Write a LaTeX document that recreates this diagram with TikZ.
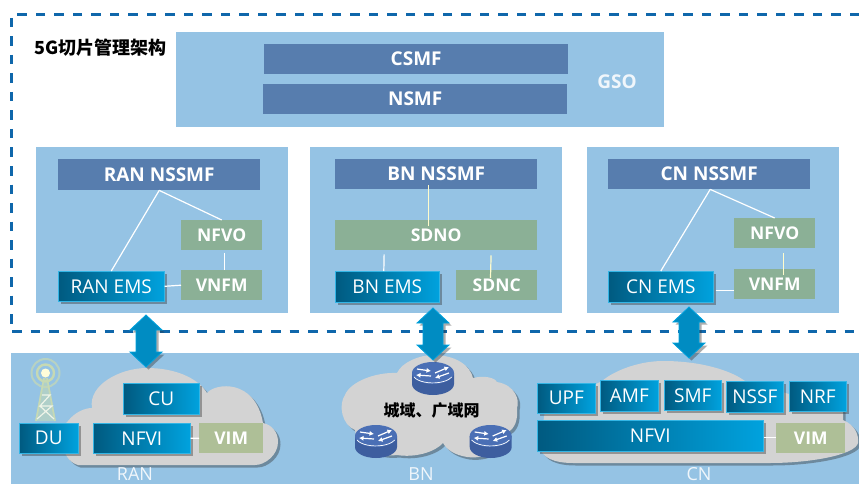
\documentclass[tikz,border=0pt]{standalone}
\usepackage{fontspec}
\setmainfont{Open Sans}
\newfontfamily\cjkfont{Noto Sans CJK SC}
\usetikzlibrary{shadows,arrows.meta}
\definecolor{panelblue}{HTML}{95C3E4}
\definecolor{mgmtblue}{HTML}{577DAE}
\definecolor{mgmtgreen}{HTML}{8BB096}
\definecolor{vimgreen}{HTML}{AEBF97}
\definecolor{cloudgray}{HTML}{D3D3D3}
\definecolor{gradleft}{HTML}{005A80}
\definecolor{gradright}{HTML}{00A2DE}
\definecolor{dashblue}{HTML}{0F67AB}
\definecolor{paletext}{HTML}{F0F6FB}
\definecolor{routertop}{HTML}{4A6FB5}
\definecolor{routerbody}{HTML}{3D5E9F}
\definecolor{towergreen}{HTML}{C6D9B4}
\tikzset{
  x=1pt,y=-1pt,
  softshadow/.style={drop shadow={shadow xshift=2.5pt,shadow yshift=-2.5pt,opacity=.4,fill=black!80}},
  panelbox/.style={fill=panelblue,draw=none,inner sep=0pt,anchor=north west},
  boxbase/.style={inner sep=0pt,anchor=north west,text=white,font=\fontsize{19}{19}\selectfont},
  mgmtbox/.style={boxbase,fill=mgmtblue,font=\fontsize{19}{19}\selectfont\bfseries},
  greenbox/.style={boxbase,fill=mgmtgreen,font=\fontsize{17.5}{17.5}\selectfont\bfseries},
  vimbox/.style={boxbase,fill=vimgreen,font=\fontsize{17.5}{17.5}\selectfont\bfseries},
  gradbox/.style={boxbase,left color=gradleft,right color=gradright,draw=gradright!80!white,line width=.6pt,softshadow},
  conn/.style={draw=white,line width=1.2pt},
  biarrow/.style={fill=gradright!70!gradleft,draw=gradright,line width=.8pt,softshadow},
  cloudshape/.style={fill=cloudgray,softshadow},
  zonelabel/.style={text=paletext,font=\fontsize{18}{18}\selectfont,inner sep=0pt,anchor=base},
  router arrow/.style={draw=white,line width=1.2pt,-{Latex[length=4.5pt,width=5pt]}}
}
% \bx{name}{x1}{y1}{x2}{y2}{style}{text}
\newcommand{\bx}[7]{\pgfmathsetmacro{\bw}{#4-#2}\pgfmathsetmacro{\bh}{#5-#3}%
  \node[#6,minimum width=\bw pt,minimum height=\bh pt] (#1) at (#2,#3) {#7};}
\newcommand{\routerat}[2]{%
  \begin{scope}[shift={(#1,#2)}]
    \fill[routerbody] (-21,0) -- (-21,11) arc[start angle=180,end angle=360,x radius=21,y radius=-11] -- (21,0) -- cycle;
    \fill[routertop] (0,0) ellipse[x radius=21,y radius=11];
    \draw[white,line width=.7pt] (-19,4) arc[start angle=200,end angle=340,x radius=20,y radius=-9];
    \draw[router arrow] (-16,-4) -- (-2,-2);
    \draw[router arrow] (-2,3) -- (-17,2);
    \draw[router arrow] (2,0) -- (16,-6);
    \draw[router arrow] (16,0) -- (2,5);
  \end{scope}}
\begin{document}
\begin{tikzpicture}
\useasboundingbox (0,0) rectangle (859,484);
\fill[white] (0,0) rectangle (859,484);

% dashed frame
\coordinate (frameTR) at (859,15);
\coordinate (frameTL) at (11,15);
\coordinate (frameBL) at (11,331.5);
\coordinate (frameBR) at (859,331.5);
\draw[dashblue,line width=3pt,dash pattern=on 9.5pt off 9pt] (frameTR) -- (frameTL) -- (frameBL) -- (frameBR);

\node[anchor=west,inner sep=0pt,font=\cjkfont\bfseries\fontsize{18}{18}\selectfont] (title) at (34,47.5) {5G切片管理架构};

% GSO
\bx{gso}{176}{32}{664}{127}{panelbox}{}
\bx{csmf}{264}{44}{568}{74}{mgmtbox}{CSMF}
\bx{nsmf}{263}{84}{567}{114}{mgmtbox}{NSMF}
\node[inner sep=0pt,font=\fontsize{19}{19}\selectfont\bfseries,text=paletext] (gsolabel) at (617,82) {GSO};

% panels
\bx{ranpanel}{36}{147}{288}{313}{panelbox}{}
\bx{bnpanel}{310}{147}{562}{313}{panelbox}{}
\bx{cnpanel}{587}{147}{839}{313}{panelbox}{}

% RAN
\bx{rann}{58}{159}{260}{190}{mgmtbox}{RAN NSSMF}
\bx{rannfvo}{181}{220}{262}{250}{greenbox}{NFVO}
\bx{ranvnfm}{181}{270}{262}{300}{greenbox}{VNFM}
\bx{ranems}{58}{271}{164}{301}{gradbox}{RAN EMS}
\draw[conn] (rann.south) -- (ranems.north);
\draw[conn] (rann.south) -- (rannfvo.north);
\draw[conn,shorten <=3pt] ([xshift=2.5pt]rannfvo.south) -- ([xshift=2.5pt]ranvnfm.north);
\draw[conn] (ranems.east) -- (ranvnfm.west);

% BN
\bx{bnn}{335}{159}{537}{189}{mgmtbox}{BN NSSMF}
\bx{bnsdno}{335}{220}{537}{250}{greenbox}{SDNO}
\bx{bnems}{335}{271}{439}{302}{gradbox}{BN EMS}
\bx{bnsdnc}{456}{270}{537}{300}{greenbox}{SDNC}
\draw[conn,shorten <=-4pt,shorten >=-6pt,yellow!20!white] ([xshift=-8pt]bnn.south) -- ([xshift=-8pt]bnsdno.north);
\draw[conn,shorten <=4pt] ([xshift=-52pt]bnsdno.south) -- ([xshift=-3.5pt]bnems.north);
\draw[conn,shorten <=5pt,shorten >=-8pt,yellow!20!white] ([xshift=55pt]bnsdno.south) -- ([xshift=-6pt]bnsdnc.north);

% CN
\bx{cnn}{608}{159}{810}{189}{mgmtbox}{CN NSSMF}
\bx{cnnfvo}{734}{218}{815}{248}{greenbox}{NFVO}
\bx{cnvnfm}{734}{269}{815}{299}{greenbox}{VNFM}
\bx{cnems}{608}{271}{713}{302}{gradbox}{CN EMS}
\draw[conn] ([xshift=1pt]cnn.south) -- (cnems.north);
\draw[conn] ([xshift=1pt]cnn.south) -- (cnnfvo.north);
\draw[conn,shorten <=5pt,shorten >=-6pt,yellow!20!white] ([xshift=9pt]cnnfvo.south) -- ([xshift=9pt]cnvnfm.north);
\draw[conn,shorten <=2pt] (cnems.east |- cnvnfm.west) ++(0,6) coordinate (cnj) -- (cnvnfm.west |- cnj);

% bottom band
\bx{bottom}{11}{353}{859}{484}{panelbox}{}

% clouds
\path[cloudshape] (78,465) .. controls (60,460) and (58,430) .. (68,421) .. controls (75,412) and (85,408) .. (92,408)
  .. controls (88,385) and (120,368) .. (147,368) .. controls (175,368) and (198,378) .. (207,393)
  .. controls (215,383) and (255,378) .. (263,423) .. controls (272,425) and (278,432) .. (278,442)
  .. controls (278,455) and (265,465) .. (255,465) -- cycle;
\path[cloudshape] (433,355) .. controls (455,355) and (470,365) .. (473,378) .. controls (485,375) and (495,378) .. (497,382)
  .. controls (515,385) and (520,400) .. (517,408) .. controls (518,420) and (515,428) .. (508,432)
  .. controls (510,445) and (490,460) .. (467,457) .. controls (455,455) and (447,450) .. (443,443)
  .. controls (435,452) and (415,458) .. (397,455) .. controls (375,458) and (355,445) .. (355,430)
  .. controls (342,425) and (338,405) .. (345,395) .. controls (350,382) and (375,372) .. (397,373)
  .. controls (402,362) and (420,355) .. (433,355) -- cycle;
\path[cloudshape] (602,381) .. controls (615,370) and (640,361) .. (663,361) .. controls (700,361) and (730,370) .. (745,381)
  -- (843,410) -- (843,420) .. controls (855,425) and (859,435) .. (858,443) .. controls (855,455) and (810,463) .. (770,463)
  -- (573,463) .. controls (555,463) and (540,458) .. (540,445) -- (545,410) -- cycle;

% tower
\begin{scope}[towergreen]
  \draw[line width=2pt,opacity=.7] (45.5,373) circle[radius=14];
  \draw[line width=2.4pt] (45.5,373) circle[radius=8.5];
  \fill[white!85!yellow] (45.5,373) circle[radius=4.5];
  \fill[opacity=.55] (43,378) -- (48,378) -- (56,421) -- (35,421) -- cycle;
  \draw[line width=1.6pt] (44,378) -- (36,421) (47,378) -- (55,421);
  \draw[line width=1.2pt,white!70!towergreen] (42,395) -- (50,395) -- (40,406) -- (52,406) -- (37,419) (54,419) -- (40,406);
\end{scope}

% routers
\routerat{433}{373}
\routerat{376}{436}
\routerat{490.7}{436}
\node[inner sep=0pt,font=\cjkfont\bfseries\fontsize{16}{16}\selectfont] (metro) at (431.5,410) {城域、广域网};

% RAN boxes
\bx{cu}{123}{383}{199}{414}{gradbox}{CU}
\bx{du}{19}{423}{78}{453}{gradbox}{DU}
\bx{rannfvi}{93}{423}{190}{453}{gradbox}{NFVI}
\bx{ranvim}{199}{423}{263}{453}{vimbox}{VIM}
\draw[conn] (rannfvi.east) -- (ranvim.west);

% CN boxes
\bx{upf}{537}{383}{595}{413}{gradbox}{UPF}
\bx{amf}{600}{380}{658}{411}{gradbox}{AMF}
\bx{smf}{664}{380}{721}{410}{gradbox}{SMF}
\bx{nssf}{726}{381}{783}{412}{gradbox}{NSSF}
\bx{nrf}{789}{381}{846}{411}{gradbox}{NRF}
\bx{cnnfvi}{537}{420}{763}{451}{gradbox}{NFVI}
\bx{cnvim}{776}{423}{845}{453}{vimbox}{VIM}
\draw[conn] (cnnfvi.east |- cnvim.west) ++(0,-1) coordinate (cnk) -- (cnvim.west |- cnk);

% labels
\node[zonelabel] (ranlabel) at (135,480) {RAN};
\node[zonelabel] (bnlabel) at (421,480) {BN};
\node[zonelabel] (cnlabel) at (699,480) {CN};

% double arrows
\path[biarrow] (146,315) -- (162,330) -- (156,330) -- (156,352) -- (162,352) -- (146,367) -- (130,352) -- (136,352) -- (136,330) -- (130,330) -- cycle;
\path[biarrow] (433,308) -- (449,323) -- (443,323) -- (443,345) -- (449,345) -- (433,360) -- (417,345) -- (423,345) -- (423,323) -- (417,323) -- cycle;
\path[biarrow] (689,307) -- (705,322) -- (699,322) -- (699,343) -- (705,343) -- (689,358) -- (673,343) -- (679,343) -- (679,322) -- (673,322) -- cycle;
\end{tikzpicture}
\end{document}
